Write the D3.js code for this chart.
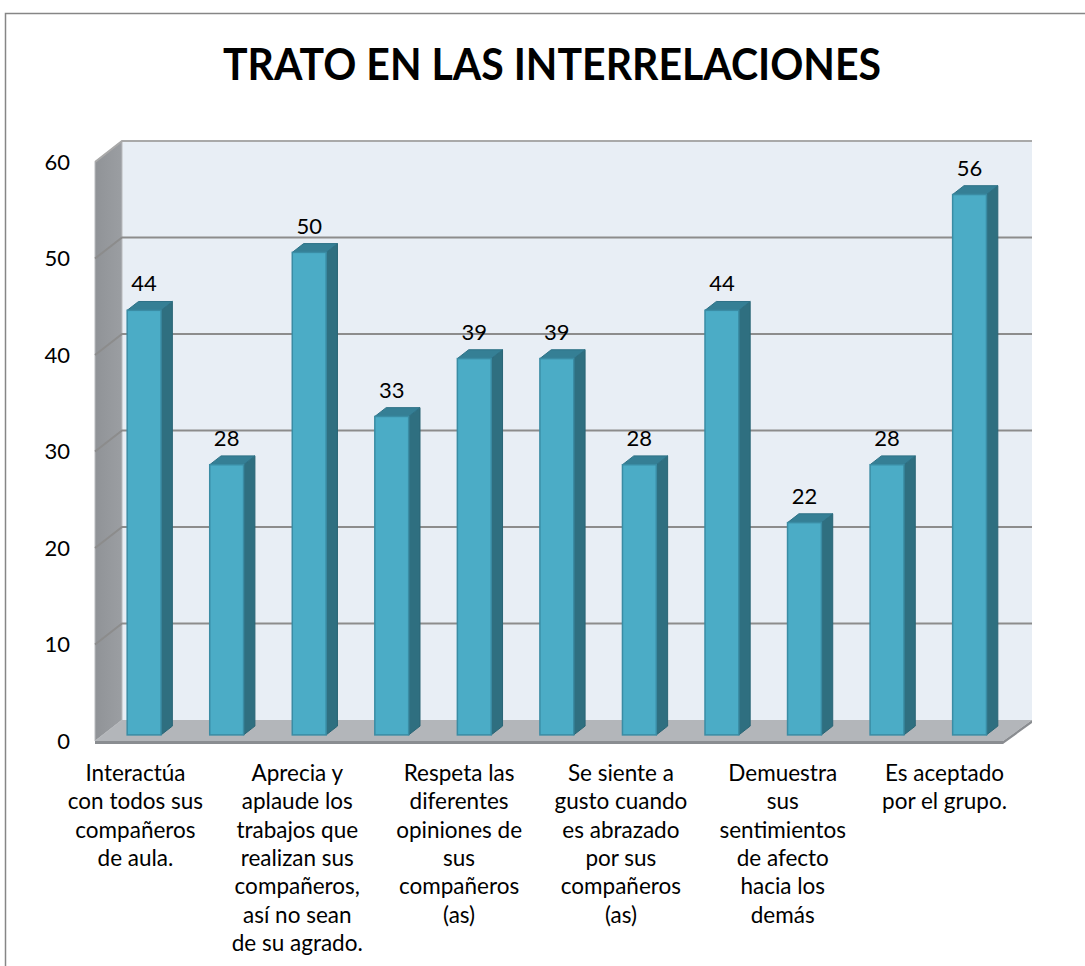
<!DOCTYPE html>
<html>
<head>
<meta charset="utf-8">
<script src="https://cdn.jsdelivr.net/npm/d3@7"></script>
<style>
body { margin: 0; background: #fff; }
svg { display: block; font-family: Lato, "Open Sans", sans-serif; }
</style>
</head>
<body>
<div id="chart"></div>
<script>
// datos del grafico
var title = "TRATO EN LAS INTERRELACIONES";
var values = [44, 28, 50, 33, 39, 39, 28, 44, 22, 28, 56];
// solo se ven las etiquetas de las categorias impares
var categories = [
    ["Interactúa", "con todos sus", "compañeros", "de aula."],
    [],
    ["Aprecia y", "aplaude los", "trabajos que", "realizan sus", "compañeros,", "así no sean", "de su agrado."],
    [],
    ["Respeta las", "diferentes", "opiniones de", "sus", "compañeros", "(as)"],
    [],
    ["Se siente a", "gusto cuando", "es abrazado", "por sus", "compañeros", "(as)"],
    [],
    ["Demuestra", "sus", "sentimientos", "de afecto", "hacia los", "demás"],
    [],
    ["Es aceptado", "por el grupo."]
];
var yTicks = [0, 10, 20, 30, 40, 50, 60];

var W = 1085, H = 966;
var x0 = 95, x1 = 1003, yBottom = 741, yTop = 162;
var DX = 27, DY = 21;   // profundidad del piso
var d0 = 0.29, d1 = 0.71; // profundidad de las barras

var svg = d3.select("#chart").append("svg")
    .attr("width", W)
    .attr("height", H);

// borde exterior
svg.append("path")
    .attr("d", "M5.5," + H + "V13.5H" + W)
    .attr("fill", "none")
    .attr("stroke", "#868686")
    .attr("stroke-width", 1.5);

svg.append("text")
    .attr("x", 552)
    .attr("y", 80)
    .attr("text-anchor", "middle")
    .attr("font-size", 44)
    .attr("font-weight", "bold")
    .attr("textLength", 658)
    .attr("lengthAdjust", "spacingAndGlyphs")
    .text(title);

var x = d3.scaleBand()
    .domain(d3.range(values.length))
    .range([x0, x1])
    .paddingInner(0.59)
    .paddingOuter(0.295);

// escala para las etiquetas de abajo (un poco mas estrecha, como en Excel)
var xl = d3.scaleBand()
    .domain(d3.range(values.length))
    .range([x0, 985]);

var y = d3.scaleLinear()
    .domain([0, 60])
    .range([yBottom, yTop]);

// pared del fondo
svg.append("rect")
    .attr("x", x0 + DX)
    .attr("y", y(60) - DY)
    .attr("width", x1 - x0 + 2)
    .attr("height", y(0) - y(60))
    .attr("fill", "#e8eef5");

// pared izquierda
var wallGrad = svg.append("defs").append("linearGradient")
    .attr("id", "wall").attr("x1", 0).attr("x2", 1);
wallGrad.append("stop").attr("offset", 0).attr("stop-color", "#909397");
wallGrad.append("stop").attr("offset", 1).attr("stop-color", "#9b9ea2");

svg.append("polygon")
    .attr("points", [[x0, y(60)], [x0 + DX, y(60) - DY], [x0 + DX, y(0) - DY], [x0, y(0)]].join(" "))
    .attr("fill", "url(#wall)")
    .attr("stroke", "#b9bbbe")
    .attr("stroke-width", 1);

// piso
svg.append("polygon")
    .attr("points", [[x0, y(0)], [x0 + DX, y(0) - DY], [x1 + DX + 2, y(0) - DY], [x1, y(0)]].join(" "))
    .attr("fill", "#b3b6ba");
svg.append("polygon")
    .attr("points", [[x0, y(0)], [x1, y(0)], [x1 + DX + 2, y(0) - DY], [x1 + DX + 2, y(0) - DY + 3], [x1, y(0) + 3], [x0, y(0) + 3]].join(" "))
    .attr("fill", "#8a8d91");

// lineas de division
yTicks.forEach(function (v) {
    if (v === 0) return;
    svg.append("polyline")
        .attr("points", [[x0, y(v)], [x0 + DX, y(v) - DY], [x1 + DX + 2, y(v) - DY]].join(" "))
        .attr("fill", "none")
        .attr("stroke", v === 60 ? "#a9a9a9" : "#8c8c8c")
        .attr("stroke-width", 2);
});

// etiquetas del eje y
svg.append("g").selectAll("text")
    .data(yTicks)
    .enter().append("text")
    .attr("x", 70)
    .attr("y", function (d) { return y(d); })
    .attr("dy", "0.35em")
    .attr("text-anchor", "end")
    .attr("font-size", 22)
    .text(function (d) { return d; });

// barras 3d
var sdx = DX * (d1 - d0), sdy = -DY * (d1 - d0);
var bars = svg.append("g").selectAll("g")
    .data(values)
    .enter().append("g")
    .attr("transform", function (d, i) {
        return "translate(" + (x(i) + DX * d0) + "," + (-DY * d0) + ")";
    });

var bw = x.bandwidth();
bars.append("polygon") // lado
    .attr("points", function (d) {
        return [[bw, y(d)], [bw + sdx, y(d) + sdy], [bw + sdx, y(0) + sdy], [bw, y(0)]].join(" ");
    })
    .attr("fill", "#2f6f80")
    .attr("stroke", "#2a6575")
    .attr("stroke-width", 1);
bars.append("polygon") // tapa
    .attr("points", function (d) {
        return [[0, y(d)], [bw, y(d)], [bw + sdx, y(d) + sdy], [sdx, y(d) + sdy]].join(" ");
    })
    .attr("fill", "#357f95")
    .attr("stroke", "#2d7186")
    .attr("stroke-width", 1);
bars.append("rect") // frente
    .attr("x", 0)
    .attr("y", function (d) { return y(d); })
    .attr("width", bw)
    .attr("height", function (d) { return y(0) - y(d); })
    .attr("fill", "#4bacc6")
    .attr("stroke", "#3a8ca4")
    .attr("stroke-width", 1.5);

bars.append("text")
    .attr("x", bw / 2)
    .attr("y", function (d) { return y(d) + sdy - 10; })
    .attr("text-anchor", "middle")
    .attr("font-size", 22)
    .text(function (d) { return d; });

// etiquetas de categorias
var cat = svg.append("g").selectAll("text")
    .data(categories)
    .enter().append("text")
    .attr("text-anchor", "middle")
    .attr("font-size", 22.5);
cat.selectAll("tspan")
    .data(function (d, i) {
        return d.map(function (t) { return {t: t, i: i}; });
    })
    .enter().append("tspan")
    .attr("x", function (d) { return xl(d.i) + xl.bandwidth() / 2; })
    .attr("y", function (d, j) { return 781 + j * 28.3; })
    .text(function (d) { return d.t; });
</script>
</body>
</html>
